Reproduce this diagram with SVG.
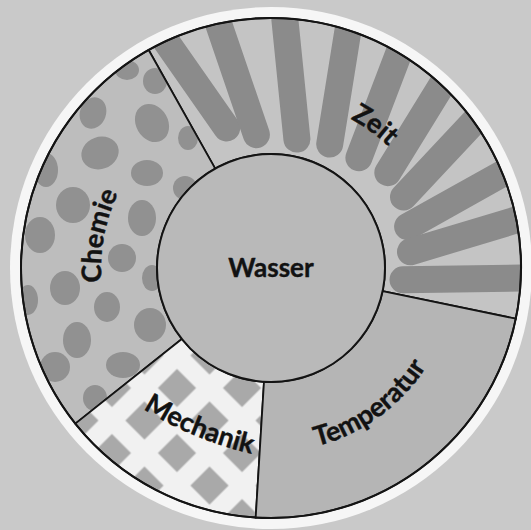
<svg xmlns="http://www.w3.org/2000/svg" width="531" height="530" viewBox="0 0 531 530">
<style>
.edge{stroke:#141414;stroke-width:1.8;fill:none}
.lbl{font-family:Lato,"Open Sans","Liberation Sans",sans-serif;font-weight:700;font-size:27px;fill:#121212;stroke:#121212;stroke-width:0.4}
.stripe{stroke:#8b8b8b;stroke-width:27;stroke-linecap:round;fill:none}
.oval{fill:#919191}
</style>
<defs>
<clipPath id="clipZeit"><path d="M148.65,50 A250,250 0 0 1 515.8,318.7 L382.6,291.1 A114,114 0 0 0 215.2,168.6 Z"/></clipPath>
<clipPath id="clipChemie"><path d="M75.35,423.6 A250,250 0 0 1 148.65,50 L215.2,168.6 A114,114 0 0 0 181.8,339 Z"/></clipPath>
<pattern id="lattice" width="46" height="46" x="8.5" y="-11.8" patternUnits="userSpaceOnUse" patternTransform="rotate(45)"><rect x="9.5" y="9.5" width="27" height="27" fill="#a9a9a9"/></pattern>
<path id="pZeit" d="M334.3,111.3 A169,169 0 0 1 400.5,159.4"/>
<path id="pTemp" d="M302.9,449.2 A184,184 0 0 0 433.5,354.4"/>
<path id="pMech" d="M122.2,394.8 A357,357 0 0 0 276.2,458.6"/>
<path id="pChem" d="M106,308.6 A170,170 0 0 1 131.8,170.5"/>
</defs>
<rect width="531" height="530" fill="#c9c9c9"/>
<circle cx="271" cy="268" r="261" fill="#f6f6f6"/>

<g id="zeit">
<path d="M148.65,50 A250,250 0 0 1 515.8,318.7 L382.6,291.1 A114,114 0 0 0 215.2,168.6 Z" fill="#c4c4c4"/>
<g clip-path="url(#clipZeit)" class="stripe">
<line x1="155.7" y1="26.5" x2="226.7" y2="128"/>
<line x1="211.9" y1="4.3" x2="256.4" y2="134.6"/>
<line x1="282.5" y1="-3.9" x2="296.9" y2="139.1"/>
<line x1="352" y1="5.3" x2="329.7" y2="144.1"/>
<line x1="405.9" y1="34.6" x2="358.9" y2="157.7"/>
<line x1="453.1" y1="66.7" x2="387.8" y2="172.6"/>
<line x1="487.1" y1="107.7" x2="403.5" y2="197"/>
<line x1="521.8" y1="162.8" x2="407.6" y2="226.6"/>
<line x1="539.9" y1="212.8" x2="410.5" y2="251.8"/>
<line x1="545" y1="277.6" x2="403" y2="279.8"/>
</g>
<path class="edge" d="M148.65,50 A250,250 0 0 1 515.8,318.7 L382.6,291.1 A114,114 0 0 0 215.2,168.6 Z"/>
<text class="lbl"><textPath href="#pZeit" startOffset="50%" text-anchor="middle">Zeit</textPath></text>
</g>

<g id="chemie">
<path d="M75.35,423.6 A250,250 0 0 1 148.65,50 L215.2,168.6 A114,114 0 0 0 181.8,339 Z" fill="#bdbdbd"/>
<g clip-path="url(#clipChemie)" class="oval">
<ellipse cx="127" cy="70" rx="12" ry="10"/>
<ellipse cx="155" cy="81" rx="12" ry="13"/>
<ellipse cx="93" cy="113" rx="13" ry="16" transform="rotate(20 93 113)"/>
<ellipse cx="152" cy="123" rx="16" ry="20" transform="rotate(-30 152 123)"/>
<ellipse cx="188" cy="138" rx="10" ry="12"/>
<ellipse cx="100" cy="153" rx="19" ry="16" transform="rotate(-20 100 153)"/>
<ellipse cx="147" cy="173" rx="16" ry="13"/>
<ellipse cx="185" cy="188" rx="12" ry="12"/>
<ellipse cx="46" cy="170" rx="12" ry="17"/>
<ellipse cx="73" cy="205" rx="17" ry="18"/>
<ellipse cx="142" cy="218" rx="14" ry="18"/>
<ellipse cx="40" cy="235" rx="15" ry="18"/>
<ellipse cx="122" cy="258" rx="14" ry="14"/>
<ellipse cx="152" cy="278" rx="10" ry="13"/>
<ellipse cx="65" cy="288" rx="15" ry="17"/>
<ellipse cx="28" cy="300" rx="10" ry="15"/>
<ellipse cx="107" cy="307" rx="13" ry="15"/>
<ellipse cx="150" cy="325" rx="16" ry="17"/>
<ellipse cx="77" cy="340" rx="14" ry="18"/>
<ellipse cx="55" cy="367" rx="15" ry="15"/>
<ellipse cx="123" cy="365" rx="17" ry="13"/>
<ellipse cx="95" cy="398" rx="12" ry="13"/>
</g>
<path class="edge" d="M75.35,423.6 A250,250 0 0 1 148.65,50 L215.2,168.6 A114,114 0 0 0 181.8,339 Z"/>
<text class="lbl"><textPath href="#pChem" startOffset="50%" text-anchor="middle">Chemie</textPath></text>
</g>

<g id="mechanik">
<path d="M255.7,517.5 A250,250 0 0 1 75.35,423.6 L181.8,339 A114,114 0 0 0 264,381.8 Z" fill="#f1f1f1"/>
<path d="M255.7,517.5 A250,250 0 0 1 75.35,423.6 L181.8,339 A114,114 0 0 0 264,381.8 Z" fill="url(#lattice)"/>
<path class="edge" d="M255.7,517.5 A250,250 0 0 1 75.35,423.6 L181.8,339 A114,114 0 0 0 264,381.8 Z"/>
<text class="lbl"><textPath href="#pMech" startOffset="50%" text-anchor="middle">Mechanik</textPath></text>
</g>

<g id="temperatur">
<path d="M515.8,318.7 A250,250 0 0 1 255.7,517.5 L264,381.8 A114,114 0 0 0 382.6,291.1 Z" fill="#b5b5b5"/>
<path class="edge" d="M515.8,318.7 A250,250 0 0 1 255.7,517.5 L264,381.8 A114,114 0 0 0 382.6,291.1 Z"/>
<text class="lbl"><textPath href="#pTemp" startOffset="50%" text-anchor="middle">Temperatur</textPath></text>
</g>

<g id="wasser">
<circle cx="271" cy="268" r="114" fill="#b9b9b9" stroke="#141414" stroke-width="2"/>
<text x="271" y="277" text-anchor="middle" class="lbl" style="font-size:26px">Wasser</text>
</g>

<circle cx="271" cy="268" r="250" fill="none" stroke="#141414" stroke-width="2"/>
</svg>
